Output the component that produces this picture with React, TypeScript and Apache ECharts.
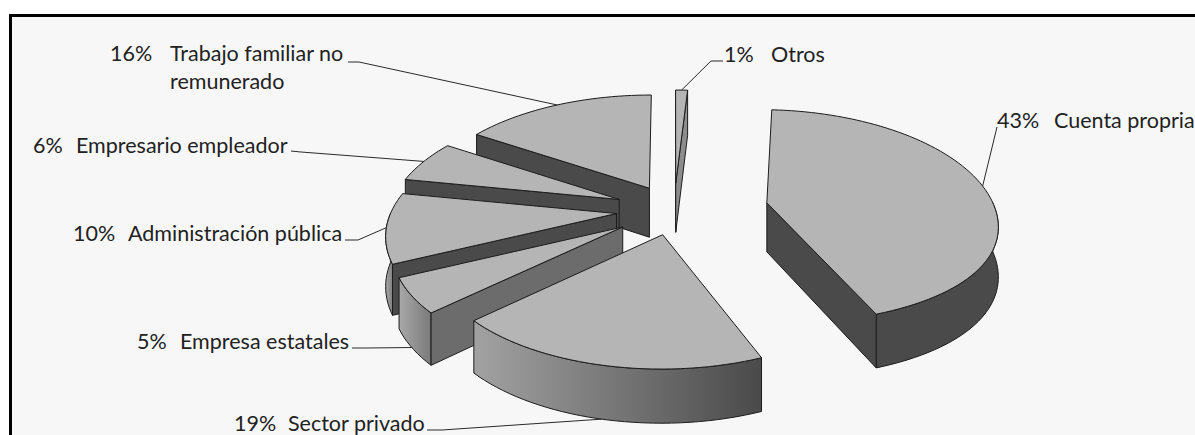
import React, { useEffect, useRef } from "react";
import * as echarts from "echarts";

// Data, in clockwise order from 12 o'clock
const categories = [
  "Otros",
  "Cuenta propria",
  "Sector privado",
  "Empresa estatales",
  "Administración pública",
  "Empresario empleador",
  "Trabajo familiar no\nremunerado",
];
const shares = [1, 43, 19, 5, 10, 6, 16];
const explodes = [55, 94, 52, 62, 58, 59, 51];

// Label layout: [percent x, name x, text top y]
const labelSpots = [
  [724, 771, 43],
  [997, 1054, 109],
  [234, 288, 412],
  [137, 180, 330],
  [73, 128, 222],
  [33, 76, 134],
  [110, 170, 39],
];
// Leader-line start and elbow
const leaderStarts = [
  [[723, 61], [711, 61]],
  [[997, 127], [997, 127]],
  [[427, 430], [442, 430]],
  [[352, 348], [366, 348]],
  [[345, 240], [358, 240]],
  [[291, 151], [301, 152]],
  [[348, 62], [359, 62]],
];

const TOP = "#b5b5b5";
const DARK = "#4a4a4a";
const EDGE = "#1c1c1c";
const TEXT = "#222222";
const FONT = "Lato";
const sideFill = ["#8c8c8c", DARK, DARK, "#6c6c6c", DARK, DARK, DARK];
const wallFill: (string | [string, string])[] = [
  "#888888",
  DARK,
  ["#a2a2a2", "#4a4a4a"],
  ["#a8a8a8", "#7a7a7a"],
  ["#a8a8a8", "#808080"],
  DARK,
  DARK,
];

const CX = 674;
const CY = 210;
const RADIUS = 226;
const TILT = 0.487;
const PERSP = 0.0008;
const HEIGHT = 49;
const RAD = Math.PI / 180;
const total = shares.reduce((a, b) => a + b, 0);

const spans = (() => {
  let acc = 0;
  return shares.map((v) => {
    const s = (acc / total) * 360;
    acc += v;
    return [s, (acc / total) * 360];
  });
})();

function project(i: number, r: number, deg: number, down: boolean) {
  const mid = ((spans[i][0] + spans[i][1]) / 2) * RAD;
  const eX = explodes[i] * Math.sin(mid);
  const eY = explodes[i] * Math.cos(mid);
  const c = Math.cos(deg * RAD);
  const w = 1 + PERSP * r * c;
  const squash = 1 - 0.0011 * Math.max(eX, 0) * Math.max(0, -c) * (r > 0 ? 1 : 0);
  const x = CX + eX + (r * Math.sin(deg * RAD)) / w + 0.5 * eX * (1 / w - 1);
  const y = CY - TILT * eY - ((TILT * r * c) / w) * squash;
  return [x, y + (down ? HEIGHT / Math.sqrt(w) : 0)];
}

function arc(i: number, a: number, b: number, down: boolean) {
  const n = Math.max(2, Math.ceil(Math.abs(b - a) / 2));
  const pts: number[][] = [];
  for (let k = 0; k <= n; k++) pts.push(project(i, RADIUS, a + ((b - a) * k) / n, down));
  return pts;
}

function sliceChildren(i: number) {
  const [a, b] = spans[i];
  const line = { stroke: EDGE, lineWidth: 1, lineJoin: "round" };
  const kids: any[] = [];
  const from = Math.max(a, 90);
  const to = Math.min(b, 270);
  if (from < to) {
    const top = arc(i, from, to, false);
    const low = arc(i, from, to, true).reverse();
    const f = wallFill[i];
    const fill = Array.isArray(f)
      ? new echarts.graphic.LinearGradient(0, 0, 1, 0, [
          { offset: 0, color: f[0] },
          { offset: 1, color: f[1] },
        ])
      : f;
    kids.push({ type: "polygon", shape: { points: [...top, ...low] }, style: { fill, ...line } });
  }
  const side = (deg: number) => ({
    type: "polygon",
    shape: {
      points: [
        project(i, 0, deg, false),
        project(i, RADIUS, deg, false),
        project(i, RADIUS, deg, true),
        project(i, 0, deg, true),
      ],
    },
    style: { fill: sideFill[i], ...line },
  });
  if (Math.sin(a * RAD) < -0.001 || a === 0) kids.push(side(a));
  if (Math.sin(b * RAD) > 0.001) kids.push(side(b));
  kids.push({
    type: "polygon",
    shape: { points: [project(i, 0, a, false), ...arc(i, a, b, false)] },
    style: { fill: TOP, ...line },
  });
  return kids;
}

function labelChildren(i: number) {
  const [pctX, nameX, y] = labelSpots[i];
  const lineHeight = categories[i].includes("\n") ? 28 : 22;
  const font = { fontFamily: FONT, fontSize: 21.5, fill: TEXT, lineHeight, verticalAlign: "top" };
  const mid = (spans[i][0] + spans[i][1]) / 2;
  const end = project(i, RADIUS, mid, Math.cos(mid * RAD) < -0.3);
  return [
    {
      type: "polyline",
      shape: { points: [...leaderStarts[i], end] },
      style: { fill: "none", stroke: "#2a2a2a", lineWidth: 1 },
    },
    { type: "text", style: { text: `${shares[i]}%`, x: pctX, y, ...font } },
    { type: "text", style: { text: categories[i], x: nameX, y, ...font } },
  ];
}

// Paint from the back of the pie to the front
const paintOrder = shares
  .map((_, i) => i)
  .sort(
    (p, q) =>
      Math.cos(((spans[q][0] + spans[q][1]) / 2) * RAD) -
      Math.cos(((spans[p][0] + spans[p][1]) / 2) * RAD),
  );

export default function App() {
  const ref = useRef<HTMLDivElement>(null);
  useEffect(() => {
    document.body.style.margin = "0";
    const chart = echarts.init(ref.current!, undefined, { renderer: "svg" });
    chart.setOption({
      animation: false,
      backgroundColor: "#ffffff",
      graphic: [
        {
          type: "rect",
          silent: true,
          z: -1,
          shape: { x: 10.5, y: 15.5, width: 1400, height: 800 },
          style: { fill: "#f7f7f7", stroke: "#000000", lineWidth: 3 },
        },
      ],
      series: [
        {
          type: "custom",
          coordinateSystem: "none",
          clip: false,
          z: 2,
          data: paintOrder.map((i) => ({ name: categories[i], value: [i, shares[i]] })),
          renderItem: (_: any, api: any) => ({
            type: "group",
            children: sliceChildren(api.value(0)),
          }),
        },
        {
          type: "custom",
          coordinateSystem: "none",
          clip: false,
          z: 3,
          silent: true,
          data: shares.map((v, i) => ({ name: categories[i], value: [i, v] })),
          renderItem: (_: any, api: any) => ({
            type: "group",
            children: labelChildren(api.value(0)),
          }),
        },
      ],
    });
    return () => chart.dispose();
  }, []);
  return <div ref={ref} style={{ position: "absolute", left: 0, top: 0, width: 1195, height: 435 }} />;
}
